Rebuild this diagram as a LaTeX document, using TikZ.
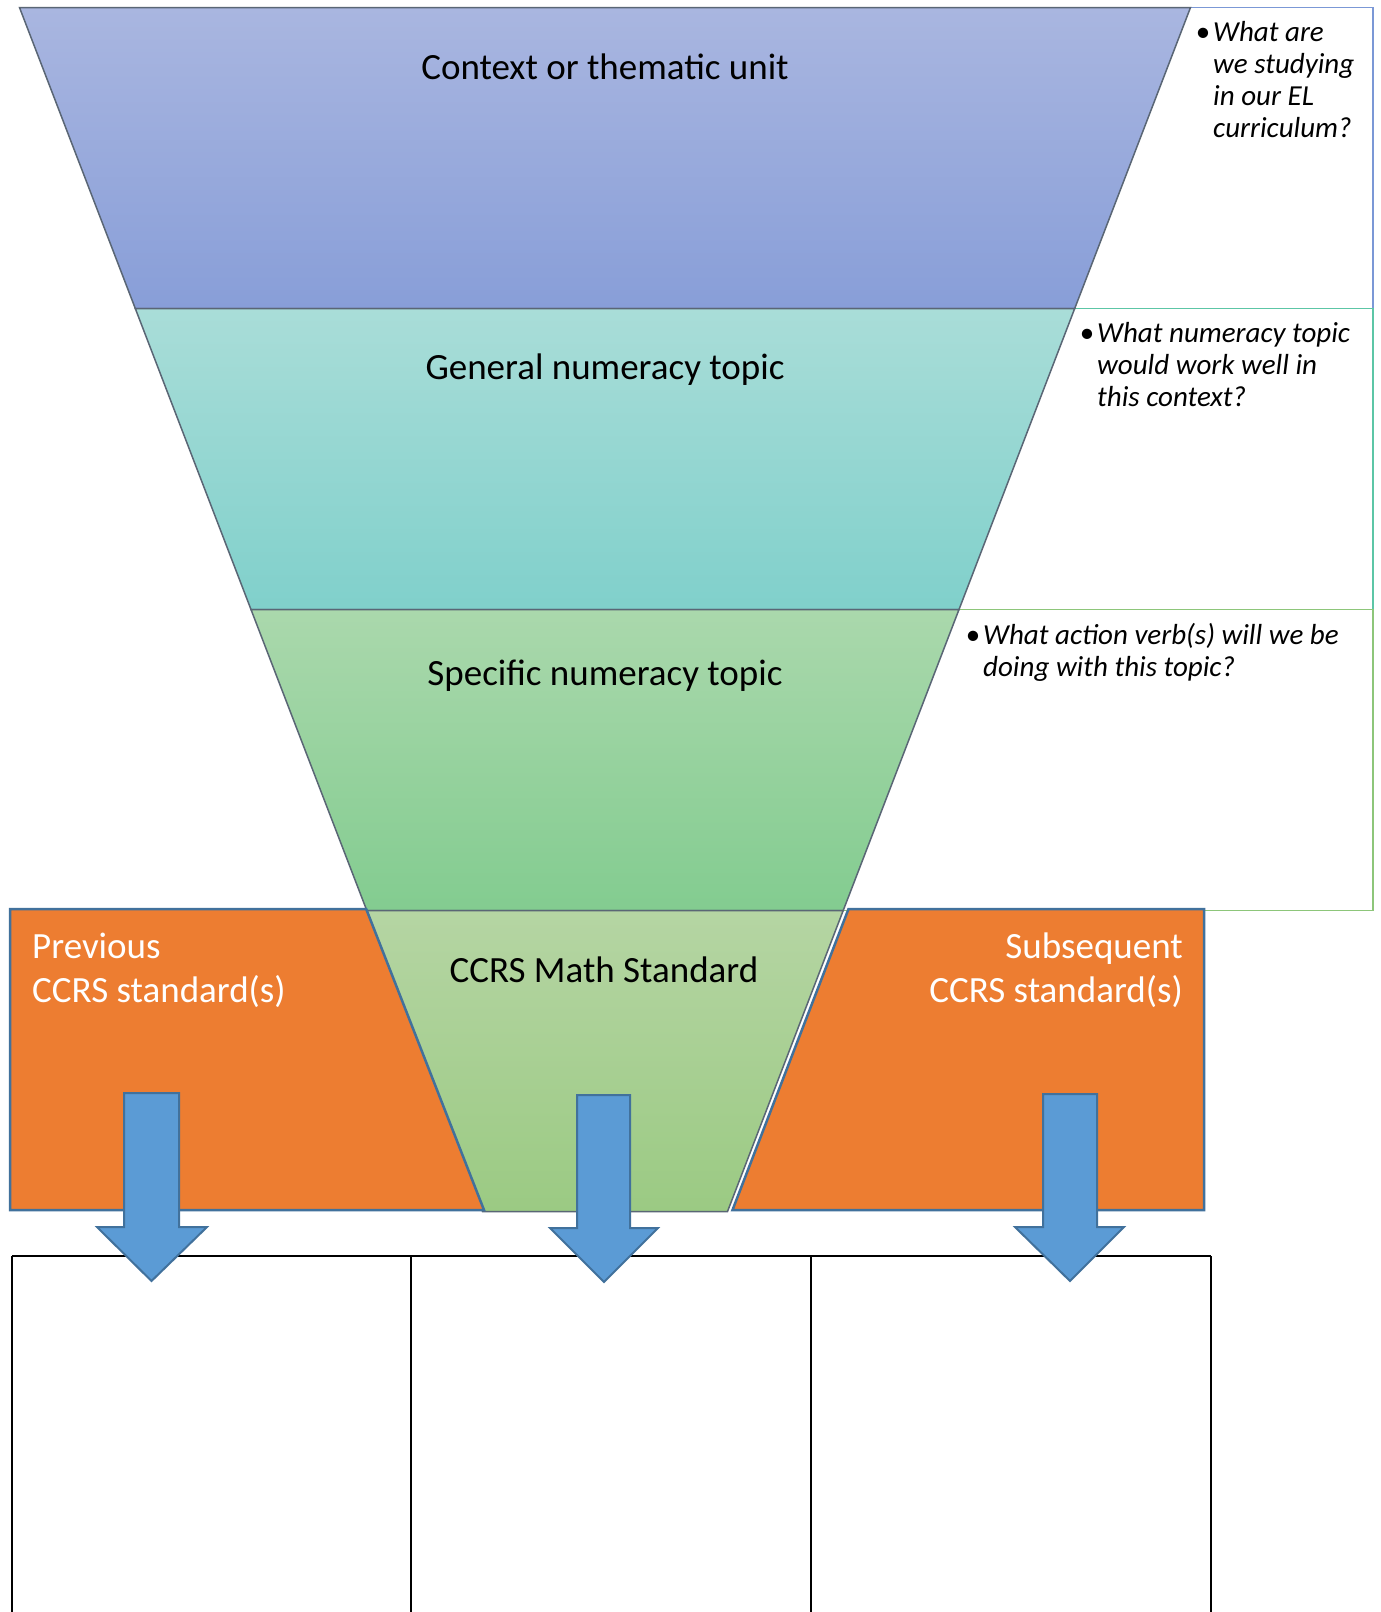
\documentclass[tikz,border=0pt]{standalone}
\usepackage{fontspec}
\setmainfont{Carlito}
\definecolor{bandA1}{HTML}{A9B6E0}
\definecolor{bandA2}{HTML}{889ED8}
\definecolor{bandB1}{HTML}{A9DDD8}
\definecolor{bandB2}{HTML}{80D0CB}
\definecolor{bandC1}{HTML}{AAD8AC}
\definecolor{bandC2}{HTML}{83CC90}
\definecolor{bandD1}{HTML}{B5D5A3}
\definecolor{bandD2}{HTML}{9BCA83}
\definecolor{bandline}{HTML}{5A6675}
\definecolor{boxA}{HTML}{7B98D6}
\definecolor{boxB}{HTML}{5CC6A6}
\definecolor{boxC}{HTML}{8DC67A}
\definecolor{orangefill}{HTML}{ED7D31}
\definecolor{blueline}{HTML}{41719C}
\definecolor{arrowfill}{HTML}{5B9BD5}
\tikzset{
  band/.style={draw=bandline, line width=1.5pt, line join=miter},
  qbox/.style={line width=1.5pt, fill=white},
  orangebox/.style={fill=orangefill, draw=blueline, line width=2.5pt, line join=miter},
  blockarrow/.style={fill=arrowfill, draw=blueline, line width=2pt, line join=miter},
  tableline/.style={draw=black, line width=1.6pt},
  mainlabel/.style={font=\fontsize{37}{44}\selectfont, inner sep=0pt, anchor=base},
  whitelabel/.style={font=\fontsize{37}{44}\selectfont, text=white, inner sep=0pt},
  question/.style={font=\fontsize{29}{32}\selectfont\itshape, inner sep=0pt, anchor=base west, align=left}
}
\newcommand{\qbullet}{\llap{\upshape•\hspace{3pt}}}
\begin{document}
\begin{tikzpicture}[x=1pt,y=-1pt]
\useasboundingbox (0,0) rectangle (1381,1612);
\fill[white] (0,0) rectangle (1381,1612);
% question boxes
\draw[qbox, draw=boxA] (1060,7.5) rectangle (1373,308.5);
\draw[qbox, draw=boxB] (945,308.5) rectangle (1373,609.5);
\draw[qbox, draw=boxC] (830,609.5) rectangle (1373,910.5);
% table
\draw[tableline, line width=2.2pt] (12,1256) -- (1211,1256);
\draw[tableline] (12,1256) -- (12,1620);
\draw[tableline] (411,1256) -- (411,1620);
\draw[tableline] (811,1256) -- (811,1620);
\draw[tableline] (1211,1256) -- (1211,1620);
% funnel bands
\draw[band, top color=bandA1, bottom color=bandA2] (19.5,7.5) -- (1190.5,7.5) -- (1074.7,308.5) -- (135.3,308.5) -- cycle;
\draw[band, top color=bandB1, bottom color=bandB2] (135.3,308.5) -- (1074.7,308.5) -- (959,609.5) -- (251,609.5) -- cycle;
\draw[band, top color=bandC1, bottom color=bandC2] (251,609.5) -- (959,609.5) -- (843.2,910.5) -- (366.8,910.5) -- cycle;
\draw[band, top color=bandD1, bottom color=bandD2] (366.8,910.5) -- (843.2,910.5) -- (727.5,1211.5) -- (482.5,1211.5) -- cycle;
% orange side shapes
\draw[orangebox] (10,909) -- (366.2,909) -- (484,1210) -- (10,1210) -- cycle;
\draw[orangebox] (848.5,909) -- (1204,909) -- (1204,1210) -- (732.5,1210) -- cycle;
% block arrows
\draw[blockarrow] (124,1093) -- (179,1093) -- (179,1227) -- (207,1227) -- (151.5,1281) -- (97,1227) -- (124,1227) -- cycle;
\draw[blockarrow] (577,1095) -- (630,1095) -- (630,1228) -- (658,1228) -- (604,1282) -- (550,1228) -- (577,1228) -- cycle;
\draw[blockarrow] (1043,1094) -- (1097,1094) -- (1097,1227) -- (1124,1227) -- (1070,1281) -- (1015,1227) -- (1043,1227) -- cycle;
% labels (multi-line nodes: base anchor = last line)
\node[mainlabel] (context) at (605,79) {Context or thematic unit};
\node[mainlabel] (general) at (605,379) {General numeracy topic};
\node[mainlabel] (specific) at (605,685) {Specific numeracy topic};
\node[mainlabel] (ccrs) at (604,982) {CCRS Math Standard};
\node[whitelabel, anchor=base west, align=left] (previous) at (32,1002) {Previous\\CCRS standard(s)};
\node[whitelabel, anchor=base east, align=right] (subsequent) at (1183,1002) {Subsequent\\CCRS standard(s)};
\node[question] (q1) at (1213,137) {\qbullet What are\\we studying\\in our EL\\curriculum?};
\node[question] (q2) at (1097,406) {\qbullet What numeracy topic\\would work well in\\this context?};
\node[question] (q3) at (983,676) {\qbullet What action verb(s) will we be\\doing with this topic?};
\end{tikzpicture}
\end{document}
